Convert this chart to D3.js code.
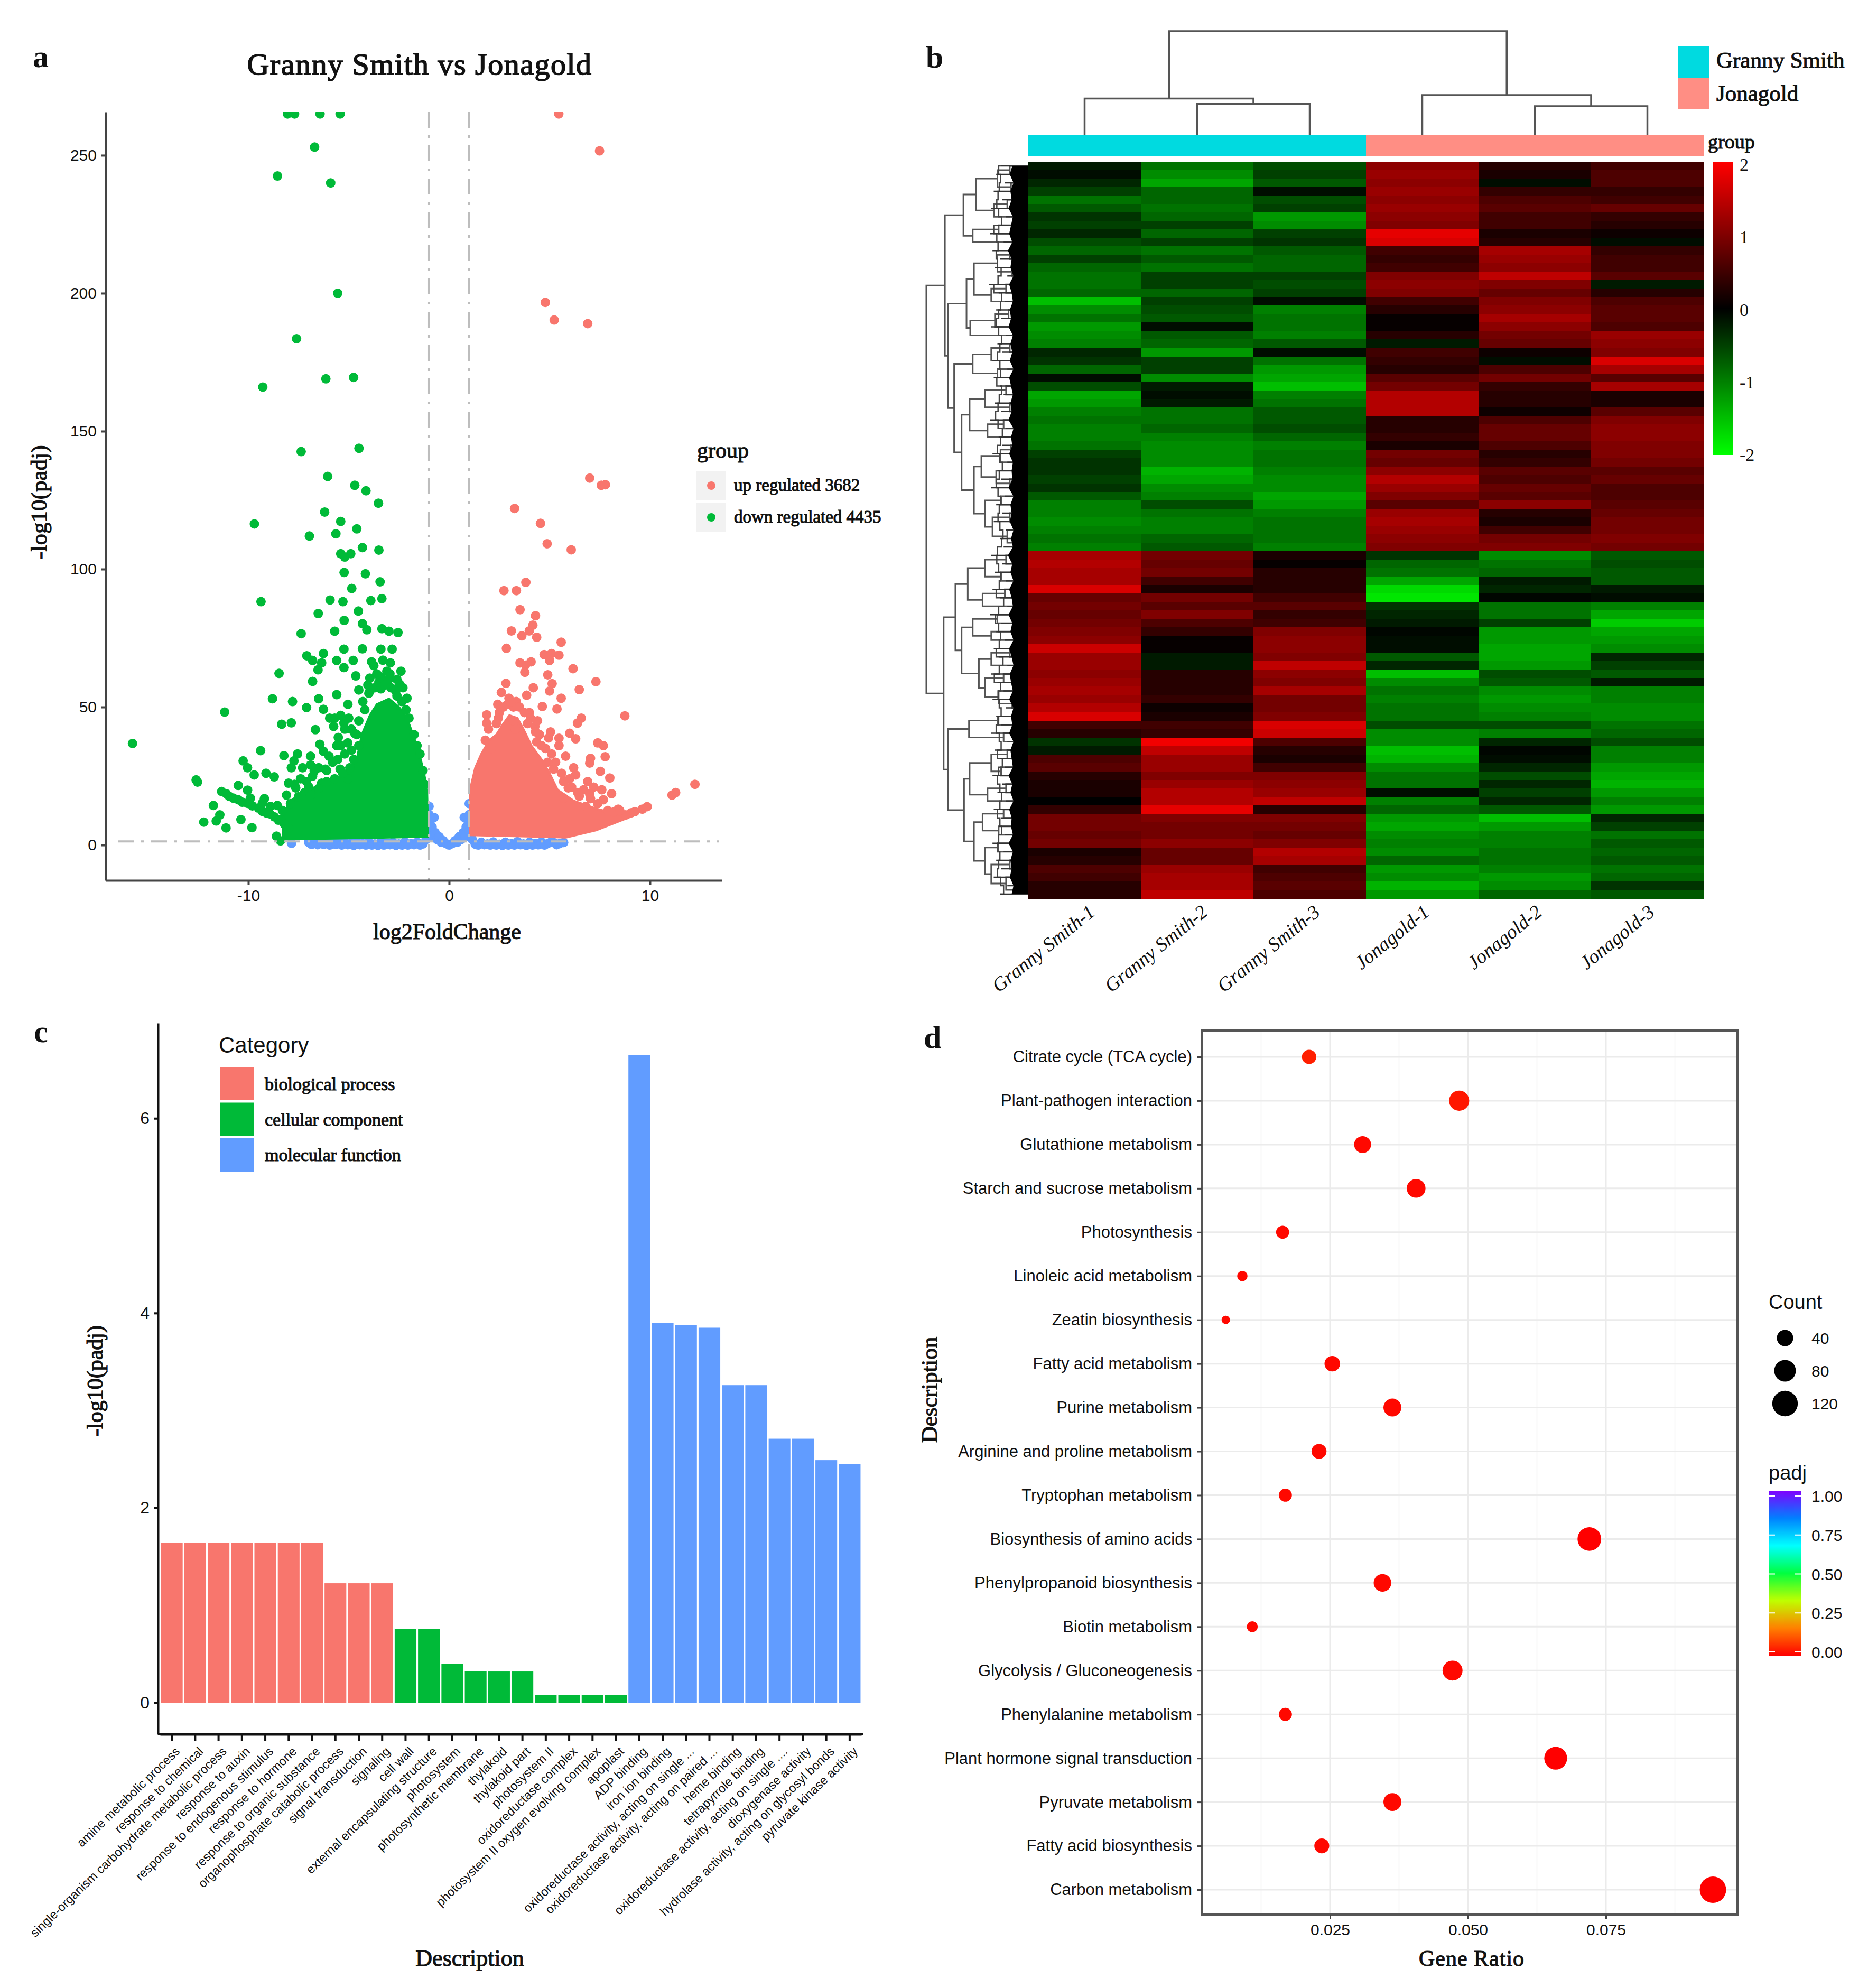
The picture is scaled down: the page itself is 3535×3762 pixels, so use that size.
<!DOCTYPE html>
<html>
<head>
<meta charset="utf-8">
<script src="https://cdnjs.cloudflare.com/ajax/libs/d3/7.8.5/d3.min.js"></script>
<style>
body{margin:0;background:#fff}
text{font-family:"Liberation Serif",serif;fill:#111}
text.sans{font-family:"Liberation Sans",sans-serif}
text.semi{stroke:#111;stroke-width:1.1px}
</style>
</head>
<body>
<svg id="fig" width="3535" height="3762"></svg>
<script>
// ---------- panel a: volcano ----------
const volcanoDown = [[-8.05,265],[-7.7,265],[-6.43,265],[-5.43,265],[-6.7,253],[-5.9,240],[-8.55,242.5],[-5.55,200],[-7.6,183.5],[-6.14,169],[-4.76,169.5],[-9.28,166],[-7.37,142.6],[-4.49,143.8],[-6.05,133.6],[-4.7,130.4],[-4.14,128.4],[-3.52,123.9],[-6.2,120.7],[-5.4,117.3],[-9.7,116.4],[-4.6,114.6],[-5.64,112.8],[-6.96,112],[-4.32,107.8],[-3.5,106.9],[-5.4,105.6],[-4.9,105.6],[-5.2,104.4],[-5.23,98.8],[-4.17,98.3],[-4.85,93],[-3.44,95.4],[-9.37,88.2],[-5.93,88.8],[-5.29,88.2],[-3.9,88.6],[-3.35,89.3],[-4.52,84.8],[-6.52,83.9],[-5.23,81.4],[-4.32,80.2],[-5.7,77.5],[-7.37,76.6],[-4.1,78],[-3.35,78.4],[-3,77.5],[-2.55,77],
[-7.09,68.6],[-6.26,69.4],[-6.8,66.9],[-6.35,66],[-6.53,63.5],[-5.6,66.9],[-5.24,71],[-5.24,64.3],[-4.78,66.9],[-4.32,71.1],[-3.86,66.4],[-3.4,71],[-2.84,71],[-2.93,66],[-2.4,63],[-8.47,62.2],[-4.65,61.3],[-6.8,59.3],[-3.95,60.5],[-3.4,60.9],[-3.02,60],[-2.47,58.3],[-4.5,56.2],[-3.95,55.8],[-3.4,56.6],[-2.66,55.8],[-2.1,53.2],[-5.6,54.5],[-8.8,53],[-7.8,52],[-6.5,53],[-5.04,51],[-7.1,49.8],[-6.26,49.2],[-11.18,48.2],[-8.34,43.8],[-7.86,44.3],[-6.66,41.8],[-5.7,46],[-5.24,44.2],[-4.87,42],[-4.69,40.4],[-5.52,39],[-5.6,36],[-6.44,36.5],[-6.26,34],[-9.39,34.2],[-10.26,30.5],[-10.04,28],[-9.71,25.4],[-9.12,26],[-8.71,24.7],[-8.23,32.4],[-7.55,33],[-7.73,30.5],[-7.86,28],[-6.9,32.2],[-6.72,26.8],[-5.98,32.2],[-5.8,30],[-6.16,27.5],[-5.43,27.5],[-4.87,34.4],[-5.05,24],[-12.53,22.8],[-12.6,23.6],
[-11.33,19.4],[-10.96,17.7],[-10.5,16.4],[-10.04,15.1],[-9.5,13.4],[-8.93,11.3],[-8.38,9.2],[-10.5,21.6],[-10.04,19.9],[-9.2,16.8],[-8.56,14.3],[-8,22.4],[-7.64,20.7],[-8.1,18.1],[-7,21.1],[-6.35,22.4],[-11.74,14.3],[-11.42,10.9],[-11.6,8.7],[-12.22,8.3],[-11.11,6.2],[-10.37,9.2],[-9.82,6.3],[-8.6,3.2],[-8.4,1.5],[-15.77,36.8],
[-11.1,18.6],[-10.75,17],[-10.3,15.5],[-9.8,14.2],[-9.3,12.2],[-9.1,11.6],[-8.7,10.2],[-8.5,9],[-8.2,7.5],[-8,6],[-9.9,17],[-9.3,15.2],[-8.9,14],[-8.3,12.5],[-7.9,15],[-7.5,17.5],[-7.2,19],[-6.9,18],[-6.5,20.5],[-6.1,23],[-5.7,24],[-5.3,26],[-4.95,28],[-5.55,31],[-5.2,33],[-4.75,31],[-4.5,36],[-4.6,40],[-5.05,37],[-5.4,36],[-5.2,42],[-5,46],[-5.4,47],[-5.75,43],[-5.95,46],[-4.5,45],[-4.2,49],[-4.3,52],[-4,55],[-3.7,57],[-3.5,59],[-3.2,58],[-2.9,57],[-2.6,54],[-2.35,52],[-2.15,49],[-3.1,63],[-3.6,62],[-4.05,58],[-3.75,65],[-3.3,67],[-2.95,62],[-2.6,60],[-2.3,57],[-2,46],[-1.75,40],[-1.6,36],[-1.45,33],[-1.3,27],[-1.2,22],[-6.8,25],[-6.5,28],[-7.1,23],[-7.4,24],[-7.7,22],[-6.1,27],[-7.3,28],[-6.9,29]];
const volcanoUp = [[5.46,265],[7.49,251.6],[4.79,196.7],[5.23,190.3],[6.9,189],[7,133],[7.58,130.4],[7.78,130.6],[3.26,122],[4.55,116.6],[4.88,109.2],[6.08,107],[2.73,92.2],[3.35,92.2],[3.82,95.2],
[3.53,85.3],[4.3,83.1],[4.17,79.7],[3.99,77.6],[3.1,77.6],[3.62,75.8],[4.36,75.3],[5.58,73.5],[2.85,71.3],[4.73,69],[5.1,69.4],[5.47,68.8],[5,66.9],[3.53,66],[4.08,66.4],[3.8,65.2],[3.77,62.6],[6.17,63.9],[4.91,61.7],[7.31,59.2],[5.13,58.5],[2.83,58.6],[4.19,57],[2.6,55.3],[6.48,56.3],[5,55.8],[3.86,54.3],[5.58,53.2],[2.98,53.2],[2.42,51],[3.34,52],[4.64,50.2],[5.37,49.3],[8.75,46.8],[6.58,46],[6.39,44.2],[1.87,47.2],[1.87,44.2],[1.96,42],[3.99,48],[4.27,43],[6,40.5],[6.3,38.5],[4.95,38.8],[5.47,38.7],[5.47,36],[4.36,37.4],[7.4,37],[7.68,36],[7.77,32],[5.8,32.2],[7.04,31.4],[7,29.7],[6.2,28],[6.3,25.4],[7.53,26.7],[8,24.3],[5.2,27.5],[5.93,20.7],[8.09,18.6],[6.48,17.7],[7.04,16.8],[7.68,16.4],[8.42,13],[9.07,11.7],[9.62,13],[9.86,13.9],[11.1,18.1],[11.28,19],[12.24,22],[8.79,10.9],[9.25,12.1],
[2.5,48],[2.7,50],[2.9,51],[3.2,50],[3.5,50],[3.75,48],[4.05,46],[2.45,46],[2.35,44],[4.5,40],[4.8,35],[5.1,33],[5.3,30],[5.6,26],[4.9,30],[6,24],[6.1,21],[6.7,20],[6.9,23],[7.2,21],[7.6,20],[5.7,23],[6.4,19],[2.1,35],[1.8,38],[3.2,45],[4.3,41],[3.9,44],[5.7,17],[6.8,14],[7.9,12.5],[8.2,12],[7,18.5],[7.4,15],[8.5,12.5],[4.6,36],[5.05,41],[4.4,45],[3.3,42],[3.05,52]];
const volcanoFlat = [[-7.85,0.6],[-7,1],[-6.85,0.2],[-6.7,0.9],[-6.55,0.1],[-6.4,1.1],[-6.25,0.2],[-6.1,0.8],[-5.95,0],[-5.8,1.2],[-5.65,0.2],[-5.5,0.7],[-5.35,0],[-5.2,1],[-5.05,0.1],[-4.9,0.6],[-4.75,-0.1],[-4.6,1.2],[-4.45,0.1],[-4.3,0.5],[-4.15,0],[-4,1],[-3.85,0],[-3.7,0.4],[-3.55,-0.1],[-3.4,1.2],[-3.25,0],[-3.1,0.6],[-2.95,0.1],[-2.8,1],[-2.65,-0.1],[-2.5,0.4],[-2.35,0],[-2.2,1.1],[-2.05,0],[-1.9,0.5],[-1.75,0.1],[-1.6,1],[-1.45,0],[-1.3,0.4],[-1.15,2],[-1.1,4],[-1,14],[-1,11],[-0.95,8.5],[-1,5],[-0.85,6.5],[-0.8,3],[-0.75,10],[-0.7,4.5],[-0.6,2],[-0.5,3],[-0.4,1],[-0.3,1.6],[-0.15,0.5],[0,0],[0.15,0.5],[0.3,1.6],[0.4,1],[0.5,3],[0.6,2],[0.7,4.5],[0.8,3],[0.75,10],[0.85,6.5],[1,5],[0.95,8.5],[1,11],[1,15],[1.1,4],[1.15,2],[1.3,0.3],[1.45,0],[1.6,1],[1.75,0.1],[1.9,0.4],[2.05,0],[2.2,1.1],[2.35,0],[2.5,0.3],[2.65,-0.1],[2.8,1],[2.95,0],[3.1,0.5],[3.25,0],[3.4,1.2],[3.55,0.1],[3.7,0.4],[3.85,-0.1],[4,1],[4.15,0],[4.3,0.6],[4.45,0.1],[4.6,1.1],[4.75,0],[4.9,0.5],[5.05,1],[5.2,0.9],[5.35,0.1],[5.5,0.5],[5.7,0.9]];
// outline of the solid part of each cloud, too dense to pick out single genes
const downCloud = [[-8.3,2],[-8.2,12],[-7.9,16],[-7.1,20],[-6.2,22],[-5.3,25],[-4.6,31],[-4.35,40],[-3.95,47],[-3.6,51],[-3,53],[-2.5,50],[-2.1,46],[-1.75,39],[-1.45,32],[-1.25,26],[-1.1,20],[-1.05,3]];
const upCloud = [[1.04,3.6],[1.04,20],[1.3,28],[1.6,33],[2,38],[2.35,40],[2.7,44],[3,47],[3.4,46],[3.7,42],[4.1,36],[4.6,31],[5,26],[5.4,20],[6.2,16],[7.4,13],[8.5,11],[9.3,11],[7.3,5.3],[5.84,2.75]];
const volcanoXTicks = [-10,0,10];
const volcanoYTicks = [0,50,100,150,200,250];
const volcanoLegend = ["up regulated 3682","down regulated 4435"];

// ---------- panel b: heatmap, one row per visible band ----------
const sampleNames = ["Granny Smith-1","Granny Smith-2","Granny Smith-3","Jonagold-1","Jonagold-2","Jonagold-3"];
const heatRows = [
[-0.2,-0.9,-0.6,1.1,0.3,0.5],[-0.1,-1.1,-0.5,1.2,0.2,0.6],[-0.3,-1.3,-0.7,1.1,-0.1,0.6],[-0.5,-0.8,-0.1,1.2,0.4,0.4],[-0.9,-0.8,-0.6,1.1,0.6,0.5],[-0.7,-0.9,-0.5,1.2,0.7,0.8],[-0.4,-0.8,-1.2,1.1,0.5,0.4],[-0.5,-0.5,-1.1,1,0.5,0.3],[-0.3,-0.8,-0.5,1.8,0.2,0.1],[-0.6,-0.5,-0.4,1.7,0.3,-0.1],
[-0.8,-0.9,-0.7,0.5,1.3,0.4],[-0.5,-0.7,-0.8,0.4,1.2,0.5],[-0.8,-0.9,-0.8,0.5,1.1,0.5],[-0.9,-0.5,-0.5,1,1.5,0.7],[-0.9,-0.5,-0.6,1.1,1,-0.2],[-0.8,-0.8,-0.5,1,0.8,0.3],[-1.5,-0.5,-0.1,0.5,1,0.6],[-1.1,-0.6,-1,0.3,1.1,0.7],[-0.9,-0.7,-0.9,0.05,1.3,0.7],[-1.2,-0.1,-0.9,0.05,1.1,0.6],
[-1.1,-0.7,-1,0.3,0.9,1.2],[-1,-0.8,-0.7,-0.2,0.8,1.1],[-0.3,-1.2,-0.1,0.5,0.1,1],[-0.4,-0.5,-0.9,0.4,-0.1,1.7],[-0.8,-0.5,-1.2,0.3,0.6,1.3],[-0.1,-1.1,-1.3,0.7,0.9,0.7],[-0.6,-0.2,-1.5,0.9,0.4,1.3],[-1.3,-0.1,-1,1.4,0.3,0.2],[-1.2,-0.2,-0.9,1.4,0.3,0.2],[-1,-0.9,-0.7,1.4,0.1,0.7],
[-0.9,-0.9,-0.7,0.3,0.6,1],[-1,-0.8,-0.6,0.3,0.8,1.1],[-1,-1,-0.8,0.4,0.8,1.1],[-0.9,-1.1,-1,0.2,0.6,1],[-0.5,-1.1,-0.9,0.9,0.3,1],[-0.4,-1.1,-0.9,0.8,0.4,0.9],[-0.4,-1.4,-1,1.1,0.7,0.7],[-0.5,-1.3,-1.1,1.4,0.6,0.8],[-0.4,-1.1,-1.1,1.2,0.8,0.6],[-0.7,-1,-1.3,1,0.7,0.6],
[-1,-0.6,-1.2,0.7,1.1,0.7],[-1,-0.9,-1,1.2,0.3,0.8],[-1.1,-1,-0.9,1.3,0.2,0.9],[-1,-1,-0.9,1.2,0.5,0.9],[-0.9,-0.8,-0.9,1.1,0.9,1],[-1,-0.7,-1,1,1,0.9],
[1.3,0.9,0.2,-0.4,-1.1,-0.7],[1.4,0.8,0.05,-0.8,-0.9,-0.6],[1.3,0.9,0.3,-0.9,-0.8,-0.7],[1.3,0.5,0.3,-1.3,-0.2,-0.7],[1.7,0.2,0.3,-1.7,-0.3,-0.2],[0.8,0.9,0.5,-1.8,-0.05,-0.1],[0.9,0.7,0.7,-0.4,-0.9,-1],[0.8,1,0.4,-0.3,-0.9,-1.3],[0.9,0.6,0.5,-0.2,-0.5,-1.6],[1,0.4,1,-0.05,-1.2,-1.3],
[1.1,0.05,1.1,-0.1,-1.2,-1.2],[1.6,0.05,1.1,-0.1,-1.3,-1.1],[1.2,-0.2,1,-0.7,-1.3,-0.3],[1.2,-0.2,1.5,-0.3,-1.2,-0.5],[1.1,0.3,1.1,-1.5,-0.6,-0.7],[1.2,0.3,1,-1.1,-0.7,-0.2],[1.3,0.3,1.3,-0.9,-1.1,-1],[1.2,0.4,0.9,-1,-1.2,-1],[1.4,0.1,0.9,-0.9,-1.1,-1.1],[1.7,0.2,1,-0.9,-1,-1.1],
[0.5,0.5,1.7,-0.6,-0.6,-0.9],[0.3,0.4,1.6,-1.1,-1,-0.8],[-0.4,1.9,0.6,-1.1,-0.3,-0.6],[-0.2,1.5,0.3,-1.5,-0.05,-1],[0.6,1.2,0.2,-1.4,-0.1,-1],[0.7,1.2,0.5,-1.1,-0.3,-1.2],[0.3,1,1,-0.9,-0.6,-1.3],[0.2,1.2,1.1,-0.9,-0.3,-1.4],[0.2,1.4,1.2,-0.1,-0.5,-1.2],[0,1.4,1.5,-1,-0.3,-1],
[0.4,1.8,0.3,-0.8,-0.7,-1.2],[0.9,1,1,-1.2,-1.5,-0.3],[0.9,0.9,0.9,-1.3,-1.2,-0.5],[0.8,0.9,0.8,-1.1,-1,-0.9],[0.9,1.1,1,-1,-1,-0.7],[0.2,0.8,1.4,-1.1,-0.9,-0.8],[0.3,0.8,1.3,-0.8,-0.9,-0.7],[0.6,1.2,0.5,-1.2,-1,-0.9],[0.5,1.3,0.6,-1.1,-1.2,-0.8],[0.3,1.3,0.7,-1.4,-1.1,-0.4],[0.3,1.5,0.6,-1.2,-0.8,-0.7]];
// [height, child, child], plain numbers are heatRows indexes
const columnTree = [100,[35,0,[30,1,2]],[38.3,3,[27.5,4,5]]];
const rowTree = [165,
  [135,
    [105,[85,[50,[30,0,1],[28,2,3]],[56,[34,4,5],6]],[90,[48,7,8],9]],
    [130,
      [100,[88,[50,[30,10,11],[26,12,13]],[60,[36,14,15],16]],[94,[54,[32,17,18],19],20]],
      [120,
        [90,[60,[30,21,22],23],[50,24,25]],
        [108,[95,[70,[36,26,27],[30,28,29]],[66,[40,30,31],32]],[88,[76,[45,[28,33,34],35],[52,36,[30,37,38]]],[70,[44,39,40],[58,[30,41,42],[34,43,[20,44,45]]]]]]]]],
  [137,
    [118,[98,[70,[36,46,47],[44,48,49]],[74,[38,50,51],52]],[108,[90,[50,53,54],[60,55,56]],[80,[60,[30,57,58],59],[70,[40,60,61],[48,62,[26,63,64]]]]]],
    [130,[96,[50,65,66],[40,67,68]],[104,[95,[60,[34,69,70],[44,71,72]],[66,[36,73,74],75]],[88,[74,[40,76,77],[48,78,79]],[70,[50,80,81],[60,[30,82,83],[36,84,[20,85,86]]]]]]]]];
// how far the black comb of leaf branches reaches at each row, and the loose twigs past it
const leafComb = [26,30,24,29,27,32,25,28,31,26,33,27,29,24,31,27,25,30,28,32,25,29,26,30,24,31,28,25,29,27,32,24,28,26,31,25,27,26,32,24,29,27,30,24,28,25,33,26,29,24,31,27,25,32,26,29,24,31,27,24,30,28,25,31,24,28,26,31,24,29,27,25,32,26,29,24,31,27,28,25,32,25,29,27,30,24,27];
const leafTwig = [44,52,38,56,42,60,36,50,62,40,58,46,54,34,64,48,38,52,44,60,36,50,42,58,34,56,46,40,54,44,62,36,48,42,58,34,50,44,60,38,52,42,56,36,46,40,60,42,54,36,58,46,34,62,44,52,38,56,48,34,60,50,40,58,36,52,44,60,34,54,46,38,58,42,50,36,56,44,48,38,58,40,52,44,56,34,46];
const heatLegendTicks = [-2,-1,0,1,2];
const groupNames = ["Granny Smith","Jonagold"];

// ---------- panel c: GO bars ----------
const goTerms = ["amine metabolic process","response to chemical","single-organism carbohydrate metabolic process","response to auxin","response to endogenous stimulus","response to hormone","response to organic substance","organophosphate catabolic process","signal transduction","signaling","cell wall","external encapsulating structure","photosystem","photosynthetic membrane","thylakoid","thylakoid part","photosystem II","oxidoreductase complex","photosystem II oxygen evolving complex","apoplast","ADP binding","iron ion binding","oxidoreductase activity, acting on single ...","oxidoreductase activity, acting on paired ...","heme binding","tetrapyrrole binding","oxidoreductase activity, acting on single ....","dioxygenase activity","hydrolase activity, acting on glycosyl bonds","pyruvate kinase activity"];
const goValues = [1.64,1.64,1.64,1.64,1.64,1.64,1.64,1.226,1.226,1.226,0.755,0.755,0.4,0.325,0.32,0.32,0.08,0.08,0.08,0.08,6.65,3.9,3.875,3.85,3.26,3.26,2.71,2.71,2.49,2.45];
const goGroups = ["biological process","biological process","biological process","biological process","biological process","biological process","biological process","biological process","biological process","biological process","cellular component","cellular component","cellular component","cellular component","cellular component","cellular component","cellular component","cellular component","cellular component","cellular component","molecular function","molecular function","molecular function","molecular function","molecular function","molecular function","molecular function","molecular function","molecular function","molecular function"];
const goCategories = ["biological process","cellular component","molecular function"];
const goYTicks = [0,2,4,6];

// ---------- panel d: KEGG dots ----------
const keggTerms = ["Citrate cycle (TCA cycle)","Plant-pathogen interaction","Glutathione metabolism","Starch and sucrose metabolism","Photosynthesis","Linoleic acid metabolism","Zeatin biosynthesis","Fatty acid metabolism","Purine metabolism","Arginine and proline metabolism","Tryptophan metabolism","Biosynthesis of amino acids","Phenylpropanoid biosynthesis","Biotin metabolism","Glycolysis / Gluconeogenesis","Phenylalanine metabolism","Plant hormone signal transduction","Pyruvate metabolism","Fatty acid biosynthesis","Carbon metabolism"];
const keggRatio = [0.0212,0.0484,0.0309,0.0406,0.0164,0.0091,0.0061,0.0254,0.0363,0.023,0.0169,0.072,0.0345,0.0109,0.0472,0.0169,0.0659,0.0363,0.0235,0.0944];
const keggCount = [29,67,43,56,23,13,8,35,50,32,23,99,48,15,65,23,91,50,32,130];
const keggPadj = [0.04,0.03,0.01,0.01,0.01,0.01,0.01,0.01,0.01,0.01,0.01,0,0.01,0.01,0.01,0.01,0,0.01,0.01,0];
const keggXTicks = [0.025,0.05,0.075];
const keggMinor = [0.0125,0.0375,0.0625,0.0875];
const countLegend = [40,80,120];
const padjLegend = [0,0.25,0.5,0.75,1];
const padjStops = ["#ff0000","#ff8000","#bfff00","#00ff40","#00ffff","#0080ff","#8000ff"];

const RED = "#F8766D", GREEN = "#00BA38", BLUE = "#619CFF";
const DOT = 9;
const svg = d3.select("#fig");

const panelLetter = (s,x,y) => svg.append("text").attr("x",x).attr("y",y).attr("font-size",60).attr("font-weight","bold").text(s);
panelLetter("a",62,127); panelLetter("b",1752,128); panelLetter("c",64,1972); panelLetter("d",1748,1983);

const styleAxis = (g,w,col,fs) => {
  g.selectAll("path,line").attr("stroke",col).attr("stroke-width",w);
  g.selectAll("text").attr("font-size",fs).attr("fill","#747474").style("font-family","'Liberation Sans',sans-serif");
};

// ---------- a ----------
const xA = d3.scaleLinear().domain([-17.105,13.58]).range([200,1366]);
const yA = d3.scaleLinear().domain([-12.83,265.7]).range([1666,212]);
svg.append("clipPath").attr("id","clipA").append("rect").attr("x",200).attr("y",212).attr("width",1166).attr("height",1454);
svg.append("text").attr("class","semi").attr("x",794).attr("y",141).attr("text-anchor","middle").attr("font-size",58).attr("letter-spacing",1.5).style("stroke-width","1.6px").text("Granny Smith vs Jonagold");

const plotA = svg.append("g").attr("clip-path","url(#clipA)");
plotA.selectAll(".flat").data(volcanoFlat).enter().append("circle").attr("class","flat")
  .attr("cx",d=>xA(d[0])).attr("cy",d=>yA(d[1])).attr("r",DOT).attr("fill",BLUE);
const cloudPath = d3.line().x(d=>xA(d[0])).y(d=>yA(d[1]));
plotA.append("path").attr("d",cloudPath(downCloud)+"Z").attr("fill",GREEN).attr("stroke",GREEN).attr("stroke-width",4).attr("stroke-linejoin","round");
plotA.append("path").attr("d",cloudPath(upCloud)+"Z").attr("fill",RED).attr("stroke",RED).attr("stroke-width",4).attr("stroke-linejoin","round");
plotA.selectAll(".down").data(volcanoDown).enter().append("circle").attr("class","down")
  .attr("cx",d=>xA(d[0])).attr("cy",d=>yA(d[1])).attr("r",DOT).attr("fill",GREEN);
plotA.selectAll(".up").data(volcanoUp).enter().append("circle").attr("class","up")
  .attr("cx",d=>xA(d[0])).attr("cy",d=>yA(d[1])).attr("r",DOT).attr("fill",RED);

// threshold lines
[-1,1].forEach(v=>{
  plotA.append("line").attr("x1",xA(v)).attr("x2",xA(v)).attr("y1",212).attr("y2",1666)
    .attr("stroke","#bdbdbd").attr("stroke-width",4).attr("stroke-dasharray","30 14 5 14");
});
plotA.append("line").attr("x1",223).attr("x2",1361).attr("y1",yA(1.3)).attr("y2",yA(1.3))
  .attr("stroke","#bdbdbd").attr("stroke-width",4).attr("stroke-dasharray","30 14 5 14");

svg.append("g").attr("transform","translate(0,1666)")
  .call(d3.axisBottom(xA).tickValues(volcanoXTicks).tickFormat(d=>d).tickSize(8).tickSizeOuter(0).tickPadding(10))
  .call(g=>styleAxis(g,4,"#444",30));
svg.append("g").attr("transform","translate(200,0)")
  .call(d3.axisLeft(yA).tickValues(volcanoYTicks).tickSize(8).tickSizeOuter(0).tickPadding(9))
  .call(g=>styleAxis(g,4,"#444",30));
svg.append("text").attr("class","semi").attr("transform","translate(88,950) rotate(-90)").attr("text-anchor","middle").attr("font-size",42).attr("letter-spacing",0.5).text("-log10(padj)");
svg.append("text").attr("class","semi").attr("x",846).attr("y",1777).attr("text-anchor","middle").attr("font-size",42).text("log2FoldChange");
svg.append("text").attr("class","semi").attr("x",1319).attr("y",866).attr("font-size",42).text("group");
volcanoLegend.forEach((t,i)=>{
  const cy = 919+60*i;
  svg.append("rect").attr("x",1318).attr("y",cy-28).attr("width",55).attr("height",56).attr("fill","#f2f2f2");
  svg.append("circle").attr("cx",1346).attr("cy",cy).attr("r",8).attr("fill",i==0?RED:GREEN);
  svg.append("text").attr("class","semi").attr("x",1389).attr("y",cy+10).attr("font-size",33).text(t);
});

// ---------- b ----------
const xB = d3.scaleBand().domain(sampleNames).range([1946,3224]);
const yB = d3.scaleBand().domain(d3.range(heatRows.length)).range([306,1700]);
const heatColor = d3.scaleLinear().domain([-2,0,2]).range(["#00ff00","#000000","#ff0000"]);
const heat = svg.append("g").attr("shape-rendering","crispEdges");
heatRows.forEach((row,r)=>{
  heat.selectAll(".r"+r).data(row).enter().append("rect").attr("class","r"+r)
    .attr("x",(d,i)=>xB(sampleNames[i])).attr("y",yB(r))
    .attr("width",xB.bandwidth()+1).attr("height",yB.bandwidth()+1).attr("fill",d=>heatColor(d));
});
// group bar
const groupX = d3.scaleBand().domain(groupNames).range([1946,3224]);
const groupColor = d3.scaleOrdinal().domain(groupNames).range(["#00DAE0","#FF8E84"]);
svg.selectAll(".grp").data(groupNames).enter().append("rect").attr("class","grp")
  .attr("x",d=>groupX(d)).attr("y",256).attr("width",groupX.bandwidth()).attr("height",39).attr("fill",d=>groupColor(d));
svg.append("text").attr("class","semi").attr("x",3232).attr("y",281).attr("font-size",38).text("group");
svg.selectAll(".grpkey").data(groupNames).enter().append("rect").attr("class","grpkey")
  .attr("x",3175).attr("y",(d,i)=>87+i*60).attr("width",60).attr("height",60).attr("fill",d=>groupColor(d));
svg.selectAll(".grplab").data(groupNames).enter().append("text").attr("class","grplab semi")
  .attr("x",3248).attr("y",(d,i)=>128+i*63).attr("font-size",43).text(d=>d);

// column dendrogram
const colH = d3.scaleLinear().domain([0,100]).range([255,59]);
const treeG = svg.append("g").attr("fill","none").attr("stroke","#555").attr("stroke-width",3.5);
const drawCol = n => {
  if (typeof n === "number") return {x:xB(sampleNames[n])+xB.bandwidth()/2, h:0};
  const a = drawCol(n[1]), b = drawCol(n[2]);
  treeG.append("path").attr("d",d3.line()([[a.x,colH(a.h)],[a.x,colH(n[0])],[b.x,colH(n[0])],[b.x,colH(b.h)]]));
  return {x:(a.x+b.x)/2, h:n[0]};
};
drawCol(columnTree);

// row dendrogram
const rowH = d3.scaleLinear().domain([0,165]).range([1946,1753]);
const rowY = r => yB(r)+yB.bandwidth()/2;
const drawRow = n => {
  if (typeof n === "number") return {y:rowY(n), h:0};
  const a = drawRow(n[1]), b = drawRow(n[2]);
  treeG.append("path").attr("stroke-width",3).attr("d",d3.line()([[rowH(a.h),a.y],[rowH(n[0]),a.y],[rowH(n[0]),b.y],[rowH(b.h),b.y]]));
  return {y:(a.y+b.y)/2, h:n[0]};
};
drawRow(rowTree);
svg.append("path").attr("fill","none").attr("stroke","#444").attr("stroke-width",2.5).attr("d",
  d3.line().curve(d3.curveStep).y((d,i)=>rowY(i)).x(d=>rowH(d))(leafTwig));
svg.selectAll(".twig").data(leafTwig).enter().append("line").attr("class","twig")
  .attr("x1",d=>rowH(d)).attr("x2",1946).attr("y1",(d,i)=>rowY(i)).attr("y2",(d,i)=>rowY(i)).attr("stroke","#333").attr("stroke-width",2.5);
svg.append("path").attr("fill","#000").attr("d",
  d3.area().y((d,i)=>rowY(i)).x0(1946).x1(d=>rowH(d))(leafComb));

// sample labels
svg.selectAll(".samp").data(sampleNames).enter().append("text").attr("class","samp")
  .attr("transform",(d,i)=>`translate(${xB(d)+xB.bandwidth()/2+(i<3?22:16)},1730) rotate(-39)`)
  .attr("text-anchor","end").attr("font-size",37).attr("font-style","italic").text(d=>d);

// colour key
const keyY = d3.scaleLinear().domain([-2,2]).range([861,312]);
const grad = svg.append("defs").append("linearGradient").attr("id","heatKey").attr("x1",0).attr("x2",0).attr("y1",1).attr("y2",0);
heatLegendTicks.forEach(v=>grad.append("stop").attr("offset",(v+2)/4).attr("stop-color",heatColor(v)));
svg.append("rect").attr("x",3242).attr("y",306).attr("width",37).attr("height",555).attr("fill","url(#heatKey)");
svg.selectAll(".hk").data(heatLegendTicks).enter().append("text").attr("class","hk")
  .attr("x",3292).attr("y",d=>keyY(d)+11).attr("font-size",34).text(d=>d);

// ---------- c ----------
const xC = d3.scaleBand().domain(goTerms).range([303,1630]).paddingInner(0.07).paddingOuter(0.035);
const yC = d3.scaleLinear().domain([-0.3255,6.978]).range([3282,1936]);
const goColor = d3.scaleOrdinal().domain(goCategories).range([RED,GREEN,BLUE]);
svg.selectAll(".bar").data(goTerms).enter().append("rect").attr("class","bar")
  .attr("x",d=>xC(d)).attr("width",xC.bandwidth())
  .attr("y",(d,i)=>yC(goValues[i])).attr("height",(d,i)=>yC(0)-yC(goValues[i]))
  .attr("fill",(d,i)=>goColor(goGroups[i]));
const axC = svg.append("g").attr("transform","translate(0,3282)")
  .call(d3.axisBottom(xC).tickSize(12).tickSizeOuter(0))
  .call(g=>styleAxis(g,4,"#111",23.5));
axC.selectAll("text").attr("transform","translate(11,28) rotate(-44)").attr("text-anchor","end").attr("x",0).attr("y",0).attr("dy","0.35em");
svg.append("line").attr("x1",299).attr("x2",1633).attr("y1",3282).attr("y2",3282).attr("stroke","#111").attr("stroke-width",4);
svg.append("g").attr("transform","translate(299,0)")
  .call(d3.axisLeft(yC).tickValues(goYTicks).tickSize(8).tickSizeOuter(0).tickPadding(8))
  .call(g=>styleAxis(g,4,"#111",32));
svg.append("text").attr("class","semi").attr("transform","translate(194,2613) rotate(-90)").attr("text-anchor","middle").attr("font-size",42).text("-log10(padj)");
svg.append("text").attr("class","semi").attr("x",889).attr("y",3720).attr("text-anchor","middle").attr("font-size",44).text("Description");
svg.append("text").attr("class","sans").attr("x",414).attr("y",1992).attr("font-size",42).text("Category");
svg.selectAll(".gokey").data(goCategories).enter().append("rect").attr("class","gokey")
  .attr("x",417).attr("y",(d,i)=>2019+i*67.5).attr("width",63).attr("height",63).attr("fill",d=>goColor(d));
svg.selectAll(".golab").data(goCategories).enter().append("text").attr("class","golab semi")
  .attr("x",501).attr("y",(d,i)=>2063+i*67).attr("font-size",34).text(d=>d);

// ---------- d ----------
const xD = d3.scaleLinear().domain([0.00182,0.09885]).range([2275,3288]);
const yD = d3.scalePoint().domain(keggTerms).range([2000,3576]);
const rD = d3.scalePow().exponent(0.4).domain([8,130]).range([8,25]);
const padjColor = d3.scaleLinear().domain(padjStops.map((c,i)=>i/(padjStops.length-1))).range(padjStops);
svg.selectAll(".gmin").data(keggMinor).enter().append("line").attr("class","gmin")
  .attr("x1",d=>xD(d)).attr("x2",d=>xD(d)).attr("y1",1950).attr("y2",3623).attr("stroke","#f0f0f0").attr("stroke-width",1.5);
svg.selectAll(".gx").data(keggXTicks).enter().append("line").attr("class","gx")
  .attr("x1",d=>xD(d)).attr("x2",d=>xD(d)).attr("y1",1950).attr("y2",3623).attr("stroke","#ebebeb").attr("stroke-width",3);
svg.selectAll(".gy").data(keggTerms).enter().append("line").attr("class","gy")
  .attr("x1",2275).attr("x2",3288).attr("y1",d=>yD(d)).attr("y2",d=>yD(d)).attr("stroke","#ebebeb").attr("stroke-width",3);
svg.selectAll(".dot").data(keggTerms).enter().append("circle").attr("class","dot")
  .attr("cx",(d,i)=>xD(keggRatio[i])).attr("cy",d=>yD(d)).attr("r",(d,i)=>rD(keggCount[i])).attr("fill",(d,i)=>padjColor(keggPadj[i]));
svg.append("rect").attr("x",2275).attr("y",1950).attr("width",1013).attr("height",1673).attr("fill","none").attr("stroke","#555").attr("stroke-width",4);
svg.append("g").attr("transform","translate(0,3623)")
  .call(d3.axisBottom(xD).tickValues(keggXTicks).tickFormat(d3.format(".3f")).tickSize(8).tickSizeOuter(0).tickPadding(10))
  .call(g=>styleAxis(g,3,"#444",30)).call(g=>g.select(".domain").remove());
svg.append("g").attr("transform","translate(2275,0)")
  .call(d3.axisLeft(yD).tickSize(10).tickSizeOuter(0).tickPadding(9))
  .call(g=>styleAxis(g,3,"#444",31)).call(g=>g.select(".domain").remove());
svg.append("text").attr("class","semi").attr("transform","translate(1773,2630) rotate(-90)").attr("text-anchor","middle").attr("font-size",43).text("Description");
svg.append("text").attr("class","semi").attr("x",2785).attr("y",3720).attr("text-anchor","middle").attr("font-size",42).attr("letter-spacing",1).text("Gene Ratio");

svg.append("text").attr("class","sans").attr("x",3347).attr("y",2477).attr("font-size",38).text("Count");
const countY = d3.scalePoint().domain(countLegend).range([2532,2656]);
svg.selectAll(".ck").data(countLegend).enter().append("circle").attr("class","ck")
  .attr("cx",3378).attr("cy",d=>countY(d)).attr("r",d=>rD(d)).attr("fill","#000");
svg.selectAll(".cl").data(countLegend).enter().append("text").attr("class","cl sans")
  .attr("x",3428).attr("y",d=>countY(d)+11).attr("font-size",30).text(d=>d);
svg.append("text").attr("class","sans").attr("x",3347).attr("y",2800).attr("font-size",38).text("padj");
const padjY = d3.scaleLinear().domain([0,1]).range([3126,2831]);
const grad2 = svg.select("defs").append("linearGradient").attr("id","padjKey").attr("x1",0).attr("x2",0).attr("y1",1).attr("y2",0);
padjStops.forEach((c,i)=>grad2.append("stop").attr("offset",i/(padjStops.length-1)).attr("stop-color",c));
svg.append("rect").attr("x",3347).attr("y",2821).attr("width",62).attr("height",312).attr("fill","url(#padjKey)");
svg.selectAll(".pt").data(padjLegend).enter().append("line").attr("class","pt")
  .attr("x1",3347).attr("x2",3409).attr("y1",d=>padjY(d)).attr("y2",d=>padjY(d)).attr("stroke","#fff").attr("stroke-width",2).attr("stroke-dasharray","12 38");
svg.selectAll(".pl").data(padjLegend).enter().append("text").attr("class","pl sans")
  .attr("x",3428).attr("y",d=>padjY(d)+11).attr("font-size",30).text(d=>d.toFixed(2));
</script>
</body>
</html>
